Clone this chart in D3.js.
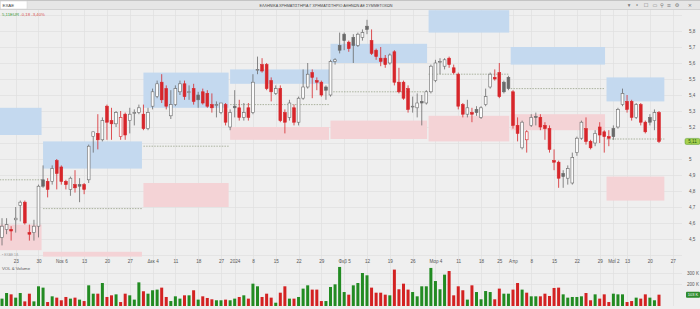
<!DOCTYPE html>
<html>
<head>
<meta charset="utf-8">
<script src="https://cdn.jsdelivr.net/npm/d3@7"></script>
<style>
body { margin: 0; background: #efefef; }
svg { display: block; font-family: "Liberation Sans", Arial, sans-serif; }
</style>
</head>
<body>
<div id="chart"></div>
<script>
"use strict"

/* Daily candles, EXAE, Oct 2023 - May 2024 (prices in EUR) */
let opens = [
  4.51,4.56,4.56,4.62,4.71,4.73,4.54,4.54,4.58,4.87,
  4.86,4.86,4.99,4.95,4.86,4.81,4.84,4.84,4.84,4.87,
  5.14,5.16,5.12,5.33,5.24,5.22,5.14,5.28,5.24,5.29,
  5.29,5.28,5.19,5.33,5.39,5.48,5.44,5.27,5.34,5.42,
  5.47,5.42,5.44,5.40,5.42,5.41,5.34,5.34,5.29,5.34,
  5.20,5.33,5.32,5.26,5.32,5.29,5.555,5.59,5.59,5.49,
  5.41,5.44,5.29,5.26,5.32,5.23,5.38,5.45,5.54,5.49,
  5.48,5.45,5.40,5.61,5.71,5.78,5.73,5.76,5.71,5.76,
  5.83,5.74,5.68,5.63,5.63,5.60,5.67,5.48,5.48,5.44,
  5.33,5.32,5.36,5.35,5.42,5.49,5.61,5.58,5.63,5.57,
  5.53,5.34,5.28,5.29,5.31,5.26,5.34,5.45,5.51,5.54,
  5.48,5.51,5.42,5.21,5.07,5.12,5.21,5.265,5.26,5.21,
  5.19,4.99,4.98,4.91,4.88,4.85,5.04,5.13,5.19,5.11,
  5.10,5.20,5.17,5.14,5.19,5.20,5.34,5.36,5.36,5.26,
  5.34,5.23,5.26,5.24,5.29
];
let highs = [
  4.63,4.63,4.58,4.70,4.74,4.74,4.59,4.62,4.84,4.96,
  4.88,4.96,5.00,4.96,4.87,4.89,4.93,4.88,4.85,5.09,
  5.17,5.28,5.26,5.34,5.32,5.30,5.30,5.29,5.32,5.31,
  5.34,5.34,5.32,5.44,5.49,5.53,5.46,5.43,5.46,5.49,
  5.49,5.46,5.47,5.42,5.44,5.43,5.41,5.36,5.35,5.35,
  5.31,5.43,5.37,5.35,5.35,5.53,5.64,5.63,5.60,5.51,
  5.46,5.46,5.31,5.37,5.34,5.39,5.56,5.60,5.56,5.51,
  5.49,5.46,5.62,5.63,5.79,5.79,5.74,5.78,5.79,5.81,
  5.87,5.81,5.69,5.70,5.65,5.66,5.68,5.57,5.49,5.46,
  5.39,5.41,5.40,5.43,5.59,5.62,5.63,5.63,5.64,5.59,
  5.54,5.35,5.37,5.32,5.33,5.33,5.44,5.54,5.56,5.60,
  5.49,5.52,5.43,5.26,5.24,5.18,5.28,5.29,5.28,5.23,
  5.21,5.06,4.99,4.93,4.96,5.04,5.14,5.24,5.26,5.12,
  5.18,5.23,5.18,5.18,5.21,5.32,5.44,5.40,5.37,5.35,
  5.35,5.24,5.28,5.31,5.30
];
let lows = [
  4.46,4.53,4.49,4.54,4.61,4.59,4.49,4.49,4.51,4.82,
  4.76,4.84,4.81,4.84,4.81,4.77,4.79,4.73,4.78,4.85,
  5.04,5.06,5.11,5.12,5.12,5.20,5.12,5.12,5.16,5.21,
  5.28,5.18,5.18,5.31,5.38,5.35,5.31,5.25,5.33,5.40,
  5.37,5.37,5.34,5.32,5.34,5.32,5.29,5.26,5.28,5.21,
  5.18,5.26,5.24,5.24,5.24,5.28,5.53,5.54,5.43,5.36,
  5.40,5.23,5.16,5.24,5.21,5.21,5.37,5.44,5.38,5.43,
  5.39,5.37,5.39,5.59,5.66,5.68,5.67,5.60,5.70,5.74,
  5.78,5.65,5.62,5.58,5.57,5.59,5.46,5.41,5.37,5.29,
  5.29,5.26,5.21,5.34,5.41,5.48,5.53,5.56,5.57,5.53,
  5.31,5.26,5.26,5.23,5.27,5.25,5.33,5.44,5.49,5.38,
  5.41,5.43,5.19,5.11,5.06,5.04,5.20,5.21,5.18,5.12,
  5.04,4.93,4.82,4.82,4.84,4.84,5.02,5.12,5.09,5.06,
  5.08,5.10,5.04,5.08,5.12,5.19,5.33,5.29,5.24,5.25,
  5.21,5.16,5.21,5.18,5.10
];
let closes = [
  4.58,4.59,4.55,4.63,4.73,4.60,4.53,4.58,4.83,4.83,
  4.81,4.94,4.91,4.86,4.84,4.88,4.82,4.83,4.81,5.08,
  5.17,5.12,5.24,5.23,5.22,5.29,5.26,5.15,5.28,5.29,
  5.32,5.19,5.29,5.42,5.47,5.37,5.33,5.34,5.44,5.47,
  5.39,5.42,5.36,5.37,5.35,5.33,5.32,5.34,5.35,5.23,
  5.29,5.32,5.26,5.29,5.26,5.48,5.56,5.55,5.44,5.42,
  5.44,5.24,5.23,5.35,5.23,5.38,5.45,5.53,5.51,5.48,
  5.40,5.43,5.61,5.62,5.68,5.74,5.69,5.71,5.78,5.79,
  5.81,5.66,5.64,5.61,5.59,5.65,5.48,5.42,5.38,5.31,
  5.33,5.35,5.35,5.42,5.58,5.60,5.61,5.62,5.59,5.54,
  5.33,5.28,5.32,5.28,5.29,5.32,5.39,5.53,5.50,5.39,
  5.42,5.44,5.21,5.16,5.23,5.17,5.26,5.26,5.20,5.19,
  5.06,4.98,4.88,4.89,4.94,5.01,5.13,5.23,5.11,5.07,
  5.16,5.15,5.14,5.13,5.14,5.31,5.41,5.31,5.26,5.34,
  5.23,5.17,5.23,5.29,5.11
];
// volume in thousands of shares
let volumes = [
  67,118,106,76,118,42,112,42,179,167,36,88,76,52,82,67,76,58,45,188,
  112,112,209,82,97,106,36,112,97,58,215,134,112,143,149,167,82,45,88,67,
  97,97,143,58,88,73,61,52,52,58,52,67,82,
  97,67,203,179,82,112,76,30,121,179,67,67,82,158,188,149,149,45,45,173,
  197,355,127,103,188,209,300,279,167,121,121,103,97,331,152,203,149,127,88,179,
  179,346,227,152,285,318,97,179,143,58,
  188,127,61,136,127,61,158,112,112,149,209,149,121,88,88,88,112,91,164,167,
  106,76,82,82,88,118,52,106,67,106,36,112,106,106,36,45,76,67,106,76,52,103
];

/* Date axis: candle index of each label */
let tickIndex = [3,8,13,18,23,28,33,38,43,48,51,55,60,65,70,75,80,85,90,95,100,105,109,112,116,121,126,131,134,137,142,147];
let tickText = ["23","30","Νοε 6","13","20","27","Δεκ 4","11","18","27","2024","8","15","22","29","Φεβ 5",
                "12","19","26","Μαρ 4","11","18","25","Απρ","8","15","22","29","Μαΐ 2","13","20","27"];
let gridPrices = [4.4,4.5,4.6,4.7,4.8,4.9,5.0,5.1,5.2,5.3,5.4,5.5,5.6,5.7,5.8,5.9];
// 5,1 sits under the last-price tag, so it carries no label
let priceTicks = [4.5,4.6,4.7,4.8,4.9,5.0,5.2,5.3,5.4,5.5,5.6,5.7,5.8];
let volumeTicks = [200, 300];

/* Monthly zones (candle index span) */
let zoneFrom = [-0.5, 9, 31, 50, 72, 93.5, 111.5, 132.5];
let zoneTo   = [9, 31, 50, 72, 93.5, 111.5, 132.5, 145.5];
let blueHigh = [5.32, 5.11, 5.54, 5.56, 5.72, 5.93, 5.70, 5.51];
let blueLow  = [5.15, 4.94, 5.32, 5.47, 5.60, 5.79, 5.59, 5.36];
let pinkHigh = [4.59, 4.42, 4.85, 5.20, 5.24, 5.27, 5.28, 4.89];
let pinkLow  = [4.43, 4.39, 4.70, 5.12, 5.125, 5.11, 5.18, 4.74];
let pivots   = [4.87, 4.69, 5.08, 5.34, 5.42, 5.53, 5.44, 5.125];

/* Drawing config */
let svgWidth = 700, svgHeight = 309;
let RED = "#d7262b", GREY = "#6a6a6a";
let VGREEN = "#228b22", VRED = "#d32222";

let svg = d3.select("#chart").append("svg")
    .attr("width", svgWidth)
    .attr("height", svgHeight);

svg.append("rect").attr("width", svgWidth).attr("height", svgHeight).attr("fill", "#efefef");

let xScale = d3.scaleLinear().domain([0, 144]).range([2, 659]);
let yScale = d3.scaleLinear().domain([4.4, 5.9]).range([255, 15]);
let vScale = d3.scaleLinear().domain([0, 400]).range([306, 262]);

svg.append("clipPath").attr("id", "pane")
  .append("rect").attr("x", 0).attr("y", 10).attr("width", 682).attr("height", 248);

/* Grid */
let grid = svg.append("g").attr("stroke", "#e0e0e0").attr("stroke-width", 0.7);
grid.selectAll(".h").data(gridPrices).join("line")
    .attr("x1", 0).attr("x2", 682)
    .attr("y1", d => Math.round(yScale(d)) + 0.5).attr("y2", d => Math.round(yScale(d)) + 0.5);
grid.selectAll(".v").data(tickIndex).join("line")
    .attr("x1", d => Math.round(xScale(d)) + 0.5).attr("x2", d => Math.round(xScale(d)) + 0.5)
    .attr("y1", 10).attr("y2", 306);
grid.selectAll(".hv").data(volumeTicks).join("line")
    .attr("x1", 0).attr("x2", 682)
    .attr("y1", d => Math.round(vScale(d)) + 0.5).attr("y2", d => Math.round(vScale(d)) + 0.5);

/* Zones */
let zones = svg.append("g").attr("clip-path", "url(#pane)");
zoneFrom.forEach(function(f, i) {
    let x0 = xScale(f), x1 = xScale(zoneTo[i]) - 1.5;
    zones.append("rect")
        .attr("x", x0).attr("width", x1 - x0)
        .attr("y", yScale(blueHigh[i])).attr("height", yScale(blueLow[i]) - yScale(blueHigh[i]))
        .attr("fill", "#c4d9ef");
    zones.append("rect")
        .attr("x", x0).attr("width", x1 - x0)
        .attr("y", yScale(pinkHigh[i])).attr("height", yScale(pinkLow[i]) - yScale(pinkHigh[i]))
        .attr("fill", "#f4d3d6");
    zones.append("line")
        .attr("x1", x0).attr("x2", x1)
        .attr("y1", yScale(pivots[i])).attr("y2", yScale(pivots[i]))
        .attr("stroke", "#8e9a7c").attr("stroke-width", 0.7)
        .attr("stroke-dasharray", "1.5,1.2");
});

/* Candles */
function candleColor(i) {
    return (i === 0 || closes[i] >= closes[i - 1]) ? GREY : RED;
}
let idx = d3.range(closes.length);
let candles = svg.append("g").attr("clip-path", "url(#pane)");
candles.selectAll("line").data(idx).join("line")
    .attr("x1", i => xScale(i)).attr("x2", i => xScale(i))
    .attr("y1", i => yScale(highs[i])).attr("y2", i => yScale(lows[i]))
    .attr("stroke", i => candleColor(i)).attr("stroke-width", 0.8);
candles.selectAll("rect").data(idx).join("rect")
    .attr("x", i => xScale(i) - 1.4)
    .attr("width", 2.8)
    .attr("y", i => yScale(Math.max(opens[i], closes[i])))
    .attr("height", i => Math.max(0.8, Math.abs(yScale(opens[i]) - yScale(closes[i]))))
    .attr("fill", i => closes[i] >= opens[i] ? "#fbfbfb" : candleColor(i))
    .attr("stroke", i => candleColor(i))
    .attr("stroke-width", 0.6);

/* Volume */
svg.append("g").selectAll("rect").data(idx).join("rect")
    .attr("x", i => xScale(i) - 1.5)
    .attr("width", 3)
    .attr("y", i => vScale(volumes[i]))
    .attr("height", i => vScale(0) - vScale(volumes[i]))
    .attr("fill", i => (i === 0 || closes[i] >= closes[i - 1]) ? VGREEN : VRED);

/* Axes */
function priceFormat(d) {
    let s = d.toFixed(1).replace(".", ",");
    return s.endsWith(",0") ? s.slice(0, -2) : s;
}
function styleAxis(g) {
    g.select(".domain").remove();
    g.attr("font-family", null).attr("font-size", null);
    g.selectAll("text").attr("font-size", 4.6).attr("fill", "#555");
}
svg.append("g")
    .attr("transform", "translate(689,0)")
    .call(d3.axisRight(yScale).tickValues(priceTicks).tickSize(0).tickPadding(0).tickFormat(priceFormat))
    .call(styleAxis);
svg.append("g")
    .attr("transform", "translate(0,257)")
    .call(d3.axisBottom(xScale).tickValues(tickIndex).tickSize(0).tickPadding(2.5)
        .tickFormat((d, i) => tickText[i]))
    .call(styleAxis);
svg.append("g")
    .attr("transform", "translate(687,0)")
    .call(d3.axisRight(vScale).tickValues(volumeTicks).tickSize(0).tickPadding(0).tickFormat(d => d + " K"))
    .call(styleAxis);

/* Last value tags */
let last = closes.length - 1;
let ty = yScale(closes[last]);
svg.append("rect").attr("x", 685).attr("y", ty - 3).attr("width", 15).attr("height", 6)
    .attr("rx", 1.5).attr("fill", "#a7cf4e").attr("stroke", "#4f9a2a").attr("stroke-width", 0.5);
svg.append("text").attr("x", 692.5).attr("y", ty + 1.7).attr("text-anchor", "middle")
    .attr("font-size", 4.6).attr("fill", "#1d5a12").text(closes[last].toFixed(2).replace(".", ","));
let vy = vScale(volumes[last]);
svg.append("rect").attr("x", 686).attr("y", vy - 3).attr("width", 14).attr("height", 6)
    .attr("rx", 1).attr("fill", "#2e8b2e");
svg.append("text").attr("x", 693).attr("y", vy + 1.6).attr("text-anchor", "middle")
    .attr("font-size", 4).attr("fill", "#fff").text(volumes[last] + " K");

/* Pane labels */
svg.append("text").attr("x", 2).attr("y", 269.5).attr("font-size", 4.3).attr("fill", "#555")
    .text("VOL & Volume");
svg.append("text").attr("x", 2).attr("y", 256).attr("font-size", 3.4).attr("fill", "#a0a0a0")
    .text("• ΕΧΑΕ 1Δ");

/* Header */
svg.append("rect").attr("x", 0).attr("y", 0).attr("width", svgWidth).attr("height", 9.5).attr("fill", "#e6e6e6");
svg.append("line").attr("x1", 0).attr("x2", svgWidth).attr("y1", 0.5).attr("y2", 0.5).attr("stroke", "#c4c4c4");
svg.append("line").attr("x1", 0).attr("x2", svgWidth).attr("y1", 9.5).attr("y2", 9.5).attr("stroke", "#d2d2d2");
svg.append("rect").attr("x", 0.5).attr("y", 1).attr("width", 26.5).attr("height", 8)
    .attr("fill", "#ffffff").attr("stroke", "#d0d0d0").attr("stroke-width", 0.5);
svg.append("text").attr("x", 2.5).attr("y", 6.6).attr("font-size", 4.4).attr("fill", "#444").text("EXAE");
svg.append("text").attr("x", 326).attr("y", 6.6).attr("text-anchor", "middle")
    .attr("font-size", 4.2).attr("fill", "#444")
    .attr("textLength", 133).attr("lengthAdjust", "spacingAndGlyphs")
    .text("ΕΛΛΗΝΙΚΑ ΧΡΗΜΑΤΙΣΤΗΡΙΑ Γ ΧΡΗΜΑΤΙΣΤΗΡΙΟ ΑΘΗΝΩΝ ΑΕ ΣΥΜΜΕΤΟΧΩΝ");

let icons = ["▾", "•", "☐", "▭", "⚲", "≡", "⚙", "×"];
let iconX = [629, 637, 646, 655, 662, 669, 677, 690];
icons.forEach(function(c, i) {
    svg.append("text").attr("x", iconX[i]).attr("y", 6.8).attr("text-anchor", "middle")
        .attr("font-family", "DejaVu Sans").attr("font-size", 5.2).attr("fill", "#777").text(c);
});

/* Legend line */
let change = closes[last] - closes[last - 1];
let legend = svg.append("text").attr("x", 2).attr("y", 15.5).attr("font-size", 4.3);
legend.append("tspan").attr("fill", "#3b9a3b").text(closes[last].toFixed(2).replace(".", ",") + "EUR ");
legend.append("tspan").attr("fill", "#d9534f")
    .text(change.toFixed(2).replace(".", ",") + " " + (change / closes[last - 1] * 100).toFixed(2).replace(".", ",") + "%");
</script>
</body>
</html>
